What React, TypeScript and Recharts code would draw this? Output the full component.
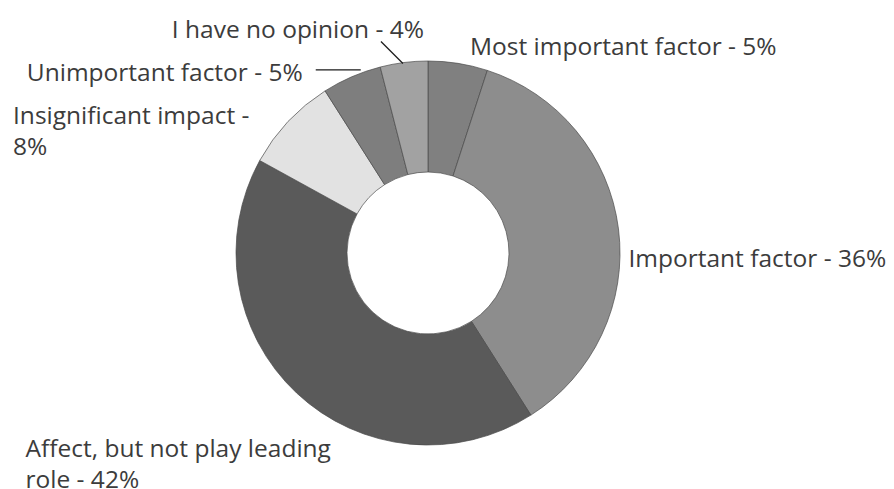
import { PieChart, Pie, Cell } from "recharts";

const categories = [
  "Most important factor",
  "Important factor",
  "Affect, but not play leading role",
  "Insignificant impact",
  "Unimportant factor",
  "I have no opinion",
];
const shares = [5, 36, 42, 8, 5, 4];
const colors = ["#808080", "#8d8d8d", "#5a5a5a", "#e2e2e2", "#7e7e7e", "#a2a2a2"];

// label placement, relative to the slice's outer mid point
const labelLayout = [
  { dx: 12, dy: -18, anchor: "start", wrap: 99 },
  { dx: 10, dy: 29, anchor: "start", wrap: 99 },
  { dx: -271, dy: 55, anchor: "start", wrap: 28 },
  { dx: -275, dy: -7, anchor: "start", wrap: 22 },
  { dx: -49, dy: -5, anchor: "end", wrap: 99, leader: [9, -7, -36, -7] },
  { dx: 20, dy: -34, anchor: "end", wrap: 99, leader: [-1, 1, -23, -21] },
];

const data = categories.map((name, i) => ({ name, value: shares[i] }));

const RAD = Math.PI / 180;

function wrapText(text: string, max: number) {
  const words = text.split(" ");
  const lines: string[] = [];
  let cur = "";
  for (const w of words) {
    const next = cur ? cur + " " + w : w;
    if (next.length > max && cur) {
      lines.push(cur);
      cur = w;
    } else {
      cur = next;
    }
  }
  if (cur) lines.push(cur);
  return lines;
}

function renderLabel(props: any) {
  const { cx, cy, midAngle, outerRadius, index, name, value } = props;
  const px = cx + outerRadius * Math.cos(-midAngle * RAD);
  const py = cy + outerRadius * Math.sin(-midAngle * RAD);
  const lay = labelLayout[index];
  const lines = wrapText(`${name} - ${value}%`, lay.wrap);
  return (
    <g key={`lbl-${index}`}>
      {lay.leader && (
        <line
          x1={px + lay.leader[0]}
          y1={py + lay.leader[1]}
          x2={px + lay.leader[2]}
          y2={py + lay.leader[3]}
          stroke="#1a1a1a"
          strokeWidth={1.3}
        />
      )}
      {lines.map((ln, j) => (
        <text
          key={j}
          x={px + lay.dx}
          y={py + lay.dy + j * 30.5}
          textAnchor={lay.anchor as any}
          dominantBaseline="central"
          fill="#3c3c3c"
          fontSize={24.5}
          fontFamily="'Open Sans', sans-serif"
        >
          {ln}
        </text>
      ))}
    </g>
  );
}

export default function App() {
  return (
    <div style={{ position: "absolute", left: 0, top: 0, background: "#fff" }}>
      <PieChart width={894} height={489} margin={{ top: 0, right: 0, bottom: 0, left: 0 }}>
        <Pie
          data={data}
          dataKey="value"
          nameKey="name"
          cx={428}
          cy={253}
          innerRadius={81}
          outerRadius={192}
          startAngle={90}
          endAngle={-270}
          stroke="#4a4a4a"
          strokeWidth={0.7}
          label={renderLabel}
          labelLine={false}
          isAnimationActive={false}
        >
          {data.map((d, i) => (
            <Cell key={d.name} fill={colors[i]} />
          ))}
        </Pie>
      </PieChart>
    </div>
  );
}
